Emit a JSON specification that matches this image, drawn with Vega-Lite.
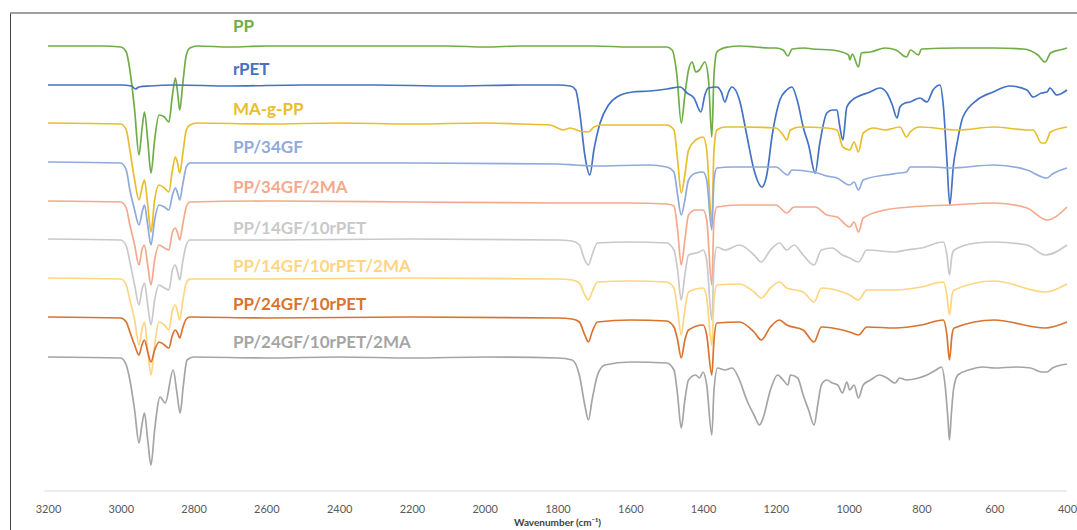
{
"$schema": "https://vega.github.io/schema/vega-lite/v6.json",
"width": 1067, "height": 517,
"autosize": {"type": "none"},
"padding": {"left": 10, "top": 13, "right": 0, "bottom": 0},
"background": "white",
"config": {"view": {"stroke": null}, "font": "Lato"},
"datasets": {
"labels": [
{"s":"PP","wn":2692,"v":503},
{"s":"rPET","wn":2692,"v":460},
{"s":"MA-g-PP","wn":2692,"v":420},
{"s":"PP/34GF","wn":2692,"v":382},
{"s":"PP/34GF/2MA","wn":2692,"v":342},
{"s":"PP/14GF/10rPET","wn":2692,"v":301},
{"s":"PP/14GF/10rPET/2MA","wn":2692,"v":263},
{"s":"PP/24GF/10rPET","wn":2692,"v":225},
{"s":"PP/24GF/10rPET/2MA","wn":2692,"v":187}
],
"spectra": [
{"s":"PP","wn":3200,"v":484},{"s":"PP","wn":3050,"v":484},{"s":"PP","wn":3000,"v":483},{"s":"PP","wn":2985,"v":478},{"s":"PP","wn":2975,"v":460},{"s":"PP","wn":2962,"v":420},{"s":"PP","wn":2950,"v":375},{"s":"PP","wn":2942,"v":400},{"s":"PP","wn":2935,"v":418},{"s":"PP","wn":2926,"v":390},{"s":"PP","wn":2917,"v":357},{"s":"PP","wn":2907,"v":390},{"s":"PP","wn":2895,"v":415},{"s":"PP","wn":2880,"v":413},{"s":"PP","wn":2868,"v":408},{"s":"PP","wn":2858,"v":435},{"s":"PP","wn":2850,"v":452},{"s":"PP","wn":2844,"v":438},{"s":"PP","wn":2838,"v":420},{"s":"PP","wn":2830,"v":445},{"s":"PP","wn":2820,"v":475},{"s":"PP","wn":2810,"v":482},{"s":"PP","wn":2790,"v":484},{"s":"PP","wn":2700,"v":483},{"s":"PP","wn":2600,"v":484},{"s":"PP","wn":2500,"v":484},{"s":"PP","wn":2400,"v":484},{"s":"PP","wn":2300,"v":484},{"s":"PP","wn":2200,"v":484},{"s":"PP","wn":2100,"v":484},{"s":"PP","wn":2000,"v":483},{"s":"PP","wn":1900,"v":484},{"s":"PP","wn":1800,"v":484},{"s":"PP","wn":1700,"v":484},{"s":"PP","wn":1600,"v":483},{"s":"PP","wn":1500,"v":483},{"s":"PP","wn":1485,"v":480},{"s":"PP","wn":1472,"v":455},{"s":"PP","wn":1460,"v":407},{"s":"PP","wn":1450,"v":435},{"s":"PP","wn":1440,"v":460},{"s":"PP","wn":1430,"v":468},{"s":"PP","wn":1420,"v":458},{"s":"PP","wn":1410,"v":460},{"s":"PP","wn":1395,"v":468},{"s":"PP","wn":1385,"v":450},{"s":"PP","wn":1376,"v":393},{"s":"PP","wn":1370,"v":455},{"s":"PP","wn":1362,"v":478},{"s":"PP","wn":1350,"v":481},{"s":"PP","wn":1330,"v":483},{"s":"PP","wn":1300,"v":484},{"s":"PP","wn":1255,"v":483},{"s":"PP","wn":1220,"v":482},{"s":"PP","wn":1200,"v":482},{"s":"PP","wn":1180,"v":480},{"s":"PP","wn":1167,"v":474},{"s":"PP","wn":1155,"v":481},{"s":"PP","wn":1120,"v":482},{"s":"PP","wn":1100,"v":481},{"s":"PP","wn":1045,"v":480},{"s":"PP","wn":1000,"v":475},{"s":"PP","wn":997,"v":470},{"s":"PP","wn":990,"v":476},{"s":"PP","wn":973,"v":463},{"s":"PP","wn":965,"v":477},{"s":"PP","wn":940,"v":478},{"s":"PP","wn":900,"v":482},{"s":"PP","wn":870,"v":480},{"s":"PP","wn":841,"v":473},{"s":"PP","wn":830,"v":480},{"s":"PP","wn":808,"v":475},{"s":"PP","wn":800,"v":481},{"s":"PP","wn":700,"v":482},{"s":"PP","wn":600,"v":482},{"s":"PP","wn":520,"v":481},{"s":"PP","wn":480,"v":475},{"s":"PP","wn":460,"v":468},{"s":"PP","wn":445,"v":477},{"s":"PP","wn":420,"v":480},{"s":"PP","wn":400,"v":482},

{"s":"rPET","wn":3200,"v":445},{"s":"rPET","wn":3000,"v":445},{"s":"rPET","wn":2970,"v":444},{"s":"rPET","wn":2960,"v":441},{"s":"rPET","wn":2950,"v":443},{"s":"rPET","wn":2920,"v":444},{"s":"rPET","wn":2850,"v":445},{"s":"rPET","wn":2700,"v":444},{"s":"rPET","wn":2500,"v":445},{"s":"rPET","wn":2300,"v":445},{"s":"rPET","wn":2100,"v":444},{"s":"rPET","wn":1900,"v":445},{"s":"rPET","wn":1800,"v":445},{"s":"rPET","wn":1765,"v":444},{"s":"rPET","wn":1750,"v":440},{"s":"rPET","wn":1738,"v":415},{"s":"rPET","wn":1725,"v":375},{"s":"rPET","wn":1711,"v":355},{"s":"rPET","wn":1700,"v":380},{"s":"rPET","wn":1683,"v":407},{"s":"rPET","wn":1660,"v":425},{"s":"rPET","wn":1637,"v":433},{"s":"rPET","wn":1593,"v":438},{"s":"rPET","wn":1546,"v":439},{"s":"rPET","wn":1499,"v":441},{"s":"rPET","wn":1463,"v":443},{"s":"rPET","wn":1444,"v":437},{"s":"rPET","wn":1425,"v":432},{"s":"rPET","wn":1406,"v":418},{"s":"rPET","wn":1395,"v":435},{"s":"rPET","wn":1386,"v":442},{"s":"rPET","wn":1362,"v":443},{"s":"rPET","wn":1350,"v":438},{"s":"rPET","wn":1340,"v":428},{"s":"rPET","wn":1330,"v":438},{"s":"rPET","wn":1321,"v":443},{"s":"rPET","wn":1300,"v":430},{"s":"rPET","wn":1280,"v":395},{"s":"rPET","wn":1260,"v":360},{"s":"rPET","wn":1238,"v":343},{"s":"rPET","wn":1225,"v":355},{"s":"rPET","wn":1210,"v":395},{"s":"rPET","wn":1189,"v":430},{"s":"rPET","wn":1170,"v":440},{"s":"rPET","wn":1156,"v":443},{"s":"rPET","wn":1140,"v":428},{"s":"rPET","wn":1125,"v":403},{"s":"rPET","wn":1110,"v":385},{"s":"rPET","wn":1092,"v":357},{"s":"rPET","wn":1080,"v":385},{"s":"rPET","wn":1060,"v":417},{"s":"rPET","wn":1045,"v":420},{"s":"rPET","wn":1032,"v":420},{"s":"rPET","wn":1025,"v":405},{"s":"rPET","wn":1016,"v":390},{"s":"rPET","wn":1005,"v":423},{"s":"rPET","wn":990,"v":430},{"s":"rPET","wn":977,"v":433},{"s":"rPET","wn":941,"v":438},{"s":"rPET","wn":914,"v":442},{"s":"rPET","wn":895,"v":437},{"s":"rPET","wn":880,"v":425},{"s":"rPET","wn":867,"v":412},{"s":"rPET","wn":859,"v":423},{"s":"rPET","wn":845,"v":427},{"s":"rPET","wn":831,"v":428},{"s":"rPET","wn":804,"v":432},{"s":"rPET","wn":785,"v":428},{"s":"rPET","wn":768,"v":440},{"s":"rPET","wn":749,"v":445},{"s":"rPET","wn":740,"v":425},{"s":"rPET","wn":730,"v":370},{"s":"rPET","wn":722,"v":325},{"s":"rPET","wn":712,"v":365},{"s":"rPET","wn":702,"v":387},{"s":"rPET","wn":686,"v":413},{"s":"rPET","wn":647,"v":430},{"s":"rPET","wn":603,"v":438},{"s":"rPET","wn":557,"v":444},{"s":"rPET","wn":510,"v":440},{"s":"rPET","wn":493,"v":433},{"s":"rPET","wn":470,"v":437},{"s":"rPET","wn":455,"v":438},{"s":"rPET","wn":447,"v":442},{"s":"rPET","wn":428,"v":435},{"s":"rPET","wn":400,"v":440},

{"s":"MA-g-PP","wn":3200,"v":407},{"s":"MA-g-PP","wn":3000,"v":406},{"s":"MA-g-PP","wn":2985,"v":400},{"s":"MA-g-PP","wn":2975,"v":380},{"s":"MA-g-PP","wn":2962,"v":350},{"s":"MA-g-PP","wn":2950,"v":330},{"s":"MA-g-PP","wn":2940,"v":345},{"s":"MA-g-PP","wn":2935,"v":350},{"s":"MA-g-PP","wn":2926,"v":325},{"s":"MA-g-PP","wn":2917,"v":298},{"s":"MA-g-PP","wn":2907,"v":330},{"s":"MA-g-PP","wn":2895,"v":345},{"s":"MA-g-PP","wn":2880,"v":342},{"s":"MA-g-PP","wn":2868,"v":338},{"s":"MA-g-PP","wn":2858,"v":360},{"s":"MA-g-PP","wn":2850,"v":373},{"s":"MA-g-PP","wn":2844,"v":367},{"s":"MA-g-PP","wn":2838,"v":357},{"s":"MA-g-PP","wn":2830,"v":375},{"s":"MA-g-PP","wn":2820,"v":400},{"s":"MA-g-PP","wn":2810,"v":405},{"s":"MA-g-PP","wn":2790,"v":407},{"s":"MA-g-PP","wn":2600,"v":406},{"s":"MA-g-PP","wn":2400,"v":407},{"s":"MA-g-PP","wn":2200,"v":406},{"s":"MA-g-PP","wn":2000,"v":407},{"s":"MA-g-PP","wn":1900,"v":406},{"s":"MA-g-PP","wn":1820,"v":405},{"s":"MA-g-PP","wn":1800,"v":402},{"s":"MA-g-PP","wn":1785,"v":400},{"s":"MA-g-PP","wn":1765,"v":402},{"s":"MA-g-PP","wn":1740,"v":399},{"s":"MA-g-PP","wn":1715,"v":398},{"s":"MA-g-PP","wn":1700,"v":403},{"s":"MA-g-PP","wn":1680,"v":405},{"s":"MA-g-PP","wn":1550,"v":405},{"s":"MA-g-PP","wn":1500,"v":405},{"s":"MA-g-PP","wn":1480,"v":400},{"s":"MA-g-PP","wn":1470,"v":370},{"s":"MA-g-PP","wn":1460,"v":337},{"s":"MA-g-PP","wn":1450,"v":355},{"s":"MA-g-PP","wn":1440,"v":380},{"s":"MA-g-PP","wn":1420,"v":390},{"s":"MA-g-PP","wn":1400,"v":393},{"s":"MA-g-PP","wn":1390,"v":380},{"s":"MA-g-PP","wn":1376,"v":308},{"s":"MA-g-PP","wn":1370,"v":380},{"s":"MA-g-PP","wn":1362,"v":400},{"s":"MA-g-PP","wn":1340,"v":403},{"s":"MA-g-PP","wn":1300,"v":403},{"s":"MA-g-PP","wn":1200,"v":402},{"s":"MA-g-PP","wn":1180,"v":395},{"s":"MA-g-PP","wn":1170,"v":390},{"s":"MA-g-PP","wn":1160,"v":400},{"s":"MA-g-PP","wn":1134,"v":403},{"s":"MA-g-PP","wn":1060,"v":402},{"s":"MA-g-PP","wn":1032,"v":400},{"s":"MA-g-PP","wn":1016,"v":383},{"s":"MA-g-PP","wn":997,"v":380},{"s":"MA-g-PP","wn":985,"v":388},{"s":"MA-g-PP","wn":973,"v":378},{"s":"MA-g-PP","wn":960,"v":397},{"s":"MA-g-PP","wn":930,"v":402},{"s":"MA-g-PP","wn":900,"v":400},{"s":"MA-g-PP","wn":859,"v":403},{"s":"MA-g-PP","wn":841,"v":393},{"s":"MA-g-PP","wn":831,"v":398},{"s":"MA-g-PP","wn":804,"v":403},{"s":"MA-g-PP","wn":700,"v":400},{"s":"MA-g-PP","wn":600,"v":403},{"s":"MA-g-PP","wn":510,"v":400},{"s":"MA-g-PP","wn":493,"v":400},{"s":"MA-g-PP","wn":470,"v":387},{"s":"MA-g-PP","wn":460,"v":387},{"s":"MA-g-PP","wn":445,"v":398},{"s":"MA-g-PP","wn":400,"v":403},

{"s":"PP/34GF","wn":3200,"v":368},{"s":"PP/34GF","wn":3000,"v":367},{"s":"PP/34GF","wn":2985,"v":360},{"s":"PP/34GF","wn":2975,"v":340},{"s":"PP/34GF","wn":2962,"v":320},{"s":"PP/34GF","wn":2950,"v":305},{"s":"PP/34GF","wn":2940,"v":320},{"s":"PP/34GF","wn":2935,"v":325},{"s":"PP/34GF","wn":2926,"v":305},{"s":"PP/34GF","wn":2917,"v":285},{"s":"PP/34GF","wn":2907,"v":310},{"s":"PP/34GF","wn":2895,"v":325},{"s":"PP/34GF","wn":2880,"v":323},{"s":"PP/34GF","wn":2868,"v":320},{"s":"PP/34GF","wn":2858,"v":335},{"s":"PP/34GF","wn":2850,"v":342},{"s":"PP/34GF","wn":2844,"v":337},{"s":"PP/34GF","wn":2838,"v":330},{"s":"PP/34GF","wn":2830,"v":345},{"s":"PP/34GF","wn":2820,"v":363},{"s":"PP/34GF","wn":2810,"v":367},{"s":"PP/34GF","wn":2600,"v":367},{"s":"PP/34GF","wn":2200,"v":367},{"s":"PP/34GF","wn":1800,"v":366},{"s":"PP/34GF","wn":1750,"v":365},{"s":"PP/34GF","wn":1700,"v":364},{"s":"PP/34GF","wn":1550,"v":365},{"s":"PP/34GF","wn":1500,"v":363},{"s":"PP/34GF","wn":1480,"v":358},{"s":"PP/34GF","wn":1470,"v":335},{"s":"PP/34GF","wn":1460,"v":315},{"s":"PP/34GF","wn":1450,"v":330},{"s":"PP/34GF","wn":1440,"v":350},{"s":"PP/34GF","wn":1420,"v":357},{"s":"PP/34GF","wn":1400,"v":358},{"s":"PP/34GF","wn":1390,"v":350},{"s":"PP/34GF","wn":1376,"v":300},{"s":"PP/34GF","wn":1370,"v":350},{"s":"PP/34GF","wn":1362,"v":362},{"s":"PP/34GF","wn":1321,"v":363},{"s":"PP/34GF","wn":1200,"v":363},{"s":"PP/34GF","wn":1167,"v":355},{"s":"PP/34GF","wn":1156,"v":360},{"s":"PP/34GF","wn":1100,"v":358},{"s":"PP/34GF","wn":1087,"v":357},{"s":"PP/34GF","wn":1060,"v":354},{"s":"PP/34GF","wn":1032,"v":352},{"s":"PP/34GF","wn":997,"v":345},{"s":"PP/34GF","wn":985,"v":348},{"s":"PP/34GF","wn":973,"v":340},{"s":"PP/34GF","wn":960,"v":350},{"s":"PP/34GF","wn":900,"v":355},{"s":"PP/34GF","wn":859,"v":357},{"s":"PP/34GF","wn":841,"v":358},{"s":"PP/34GF","wn":831,"v":363},{"s":"PP/34GF","wn":768,"v":363},{"s":"PP/34GF","wn":722,"v":362},{"s":"PP/34GF","wn":600,"v":365},{"s":"PP/34GF","wn":510,"v":360},{"s":"PP/34GF","wn":455,"v":352},{"s":"PP/34GF","wn":440,"v":356},{"s":"PP/34GF","wn":400,"v":362},

{"s":"PP/34GF/2MA","wn":3200,"v":329},{"s":"PP/34GF/2MA","wn":3000,"v":328},{"s":"PP/34GF/2MA","wn":2985,"v":322},{"s":"PP/34GF/2MA","wn":2975,"v":305},{"s":"PP/34GF/2MA","wn":2962,"v":285},{"s":"PP/34GF/2MA","wn":2950,"v":265},{"s":"PP/34GF/2MA","wn":2942,"v":280},{"s":"PP/34GF/2MA","wn":2935,"v":285},{"s":"PP/34GF/2MA","wn":2926,"v":265},{"s":"PP/34GF/2MA","wn":2917,"v":245},{"s":"PP/34GF/2MA","wn":2907,"v":270},{"s":"PP/34GF/2MA","wn":2895,"v":285},{"s":"PP/34GF/2MA","wn":2880,"v":282},{"s":"PP/34GF/2MA","wn":2868,"v":280},{"s":"PP/34GF/2MA","wn":2858,"v":298},{"s":"PP/34GF/2MA","wn":2850,"v":302},{"s":"PP/34GF/2MA","wn":2844,"v":297},{"s":"PP/34GF/2MA","wn":2838,"v":290},{"s":"PP/34GF/2MA","wn":2830,"v":305},{"s":"PP/34GF/2MA","wn":2820,"v":323},{"s":"PP/34GF/2MA","wn":2810,"v":328},{"s":"PP/34GF/2MA","wn":2600,"v":329},{"s":"PP/34GF/2MA","wn":2200,"v":328},{"s":"PP/34GF/2MA","wn":1800,"v":327},{"s":"PP/34GF/2MA","wn":1600,"v":327},{"s":"PP/34GF/2MA","wn":1500,"v":326},{"s":"PP/34GF/2MA","wn":1480,"v":324},{"s":"PP/34GF/2MA","wn":1470,"v":300},{"s":"PP/34GF/2MA","wn":1460,"v":265},{"s":"PP/34GF/2MA","wn":1450,"v":290},{"s":"PP/34GF/2MA","wn":1440,"v":315},{"s":"PP/34GF/2MA","wn":1420,"v":320},{"s":"PP/34GF/2MA","wn":1400,"v":320},{"s":"PP/34GF/2MA","wn":1390,"v":310},{"s":"PP/34GF/2MA","wn":1376,"v":245},{"s":"PP/34GF/2MA","wn":1370,"v":310},{"s":"PP/34GF/2MA","wn":1362,"v":323},{"s":"PP/34GF/2MA","wn":1300,"v":325},{"s":"PP/34GF/2MA","wn":1200,"v":325},{"s":"PP/34GF/2MA","wn":1170,"v":317},{"s":"PP/34GF/2MA","wn":1150,"v":323},{"s":"PP/34GF/2MA","wn":1092,"v":323},{"s":"PP/34GF/2MA","wn":1060,"v":315},{"s":"PP/34GF/2MA","wn":1032,"v":313},{"s":"PP/34GF/2MA","wn":997,"v":303},{"s":"PP/34GF/2MA","wn":985,"v":308},{"s":"PP/34GF/2MA","wn":973,"v":298},{"s":"PP/34GF/2MA","wn":960,"v":312},{"s":"PP/34GF/2MA","wn":900,"v":320},{"s":"PP/34GF/2MA","wn":831,"v":323},{"s":"PP/34GF/2MA","wn":722,"v":325},{"s":"PP/34GF/2MA","wn":600,"v":327},{"s":"PP/34GF/2MA","wn":510,"v":322},{"s":"PP/34GF/2MA","wn":455,"v":310},{"s":"PP/34GF/2MA","wn":400,"v":323},

{"s":"PP/14GF/10rPET","wn":3200,"v":291},{"s":"PP/14GF/10rPET","wn":3000,"v":290},{"s":"PP/14GF/10rPET","wn":2985,"v":284},{"s":"PP/14GF/10rPET","wn":2975,"v":268},{"s":"PP/14GF/10rPET","wn":2962,"v":245},{"s":"PP/14GF/10rPET","wn":2950,"v":225},{"s":"PP/14GF/10rPET","wn":2942,"v":240},{"s":"PP/14GF/10rPET","wn":2935,"v":247},{"s":"PP/14GF/10rPET","wn":2926,"v":225},{"s":"PP/14GF/10rPET","wn":2917,"v":205},{"s":"PP/14GF/10rPET","wn":2907,"v":230},{"s":"PP/14GF/10rPET","wn":2895,"v":245},{"s":"PP/14GF/10rPET","wn":2880,"v":242},{"s":"PP/14GF/10rPET","wn":2868,"v":240},{"s":"PP/14GF/10rPET","wn":2858,"v":260},{"s":"PP/14GF/10rPET","wn":2850,"v":265},{"s":"PP/14GF/10rPET","wn":2844,"v":258},{"s":"PP/14GF/10rPET","wn":2838,"v":250},{"s":"PP/14GF/10rPET","wn":2830,"v":268},{"s":"PP/14GF/10rPET","wn":2820,"v":285},{"s":"PP/14GF/10rPET","wn":2810,"v":290},{"s":"PP/14GF/10rPET","wn":2600,"v":290},{"s":"PP/14GF/10rPET","wn":2200,"v":291},{"s":"PP/14GF/10rPET","wn":1800,"v":290},{"s":"PP/14GF/10rPET","wn":1760,"v":289},{"s":"PP/14GF/10rPET","wn":1740,"v":285},{"s":"PP/14GF/10rPET","wn":1725,"v":270},{"s":"PP/14GF/10rPET","wn":1715,"v":265},{"s":"PP/14GF/10rPET","wn":1705,"v":275},{"s":"PP/14GF/10rPET","wn":1690,"v":287},{"s":"PP/14GF/10rPET","wn":1600,"v":288},{"s":"PP/14GF/10rPET","wn":1500,"v":287},{"s":"PP/14GF/10rPET","wn":1480,"v":280},{"s":"PP/14GF/10rPET","wn":1470,"v":260},{"s":"PP/14GF/10rPET","wn":1460,"v":230},{"s":"PP/14GF/10rPET","wn":1450,"v":255},{"s":"PP/14GF/10rPET","wn":1440,"v":275},{"s":"PP/14GF/10rPET","wn":1410,"v":278},{"s":"PP/14GF/10rPET","wn":1400,"v":280},{"s":"PP/14GF/10rPET","wn":1390,"v":270},{"s":"PP/14GF/10rPET","wn":1376,"v":210},{"s":"PP/14GF/10rPET","wn":1370,"v":265},{"s":"PP/14GF/10rPET","wn":1362,"v":283},{"s":"PP/14GF/10rPET","wn":1340,"v":280},{"s":"PP/14GF/10rPET","wn":1300,"v":285},{"s":"PP/14GF/10rPET","wn":1260,"v":275},{"s":"PP/14GF/10rPET","wn":1240,"v":268},{"s":"PP/14GF/10rPET","wn":1215,"v":280},{"s":"PP/14GF/10rPET","wn":1190,"v":287},{"s":"PP/14GF/10rPET","wn":1170,"v":280},{"s":"PP/14GF/10rPET","wn":1150,"v":285},{"s":"PP/14GF/10rPET","wn":1125,"v":275},{"s":"PP/14GF/10rPET","wn":1095,"v":265},{"s":"PP/14GF/10rPET","wn":1075,"v":280},{"s":"PP/14GF/10rPET","wn":1045,"v":282},{"s":"PP/14GF/10rPET","wn":1017,"v":275},{"s":"PP/14GF/10rPET","wn":997,"v":272},{"s":"PP/14GF/10rPET","wn":973,"v":268},{"s":"PP/14GF/10rPET","wn":950,"v":280},{"s":"PP/14GF/10rPET","wn":872,"v":278},{"s":"PP/14GF/10rPET","wn":841,"v":280},{"s":"PP/14GF/10rPET","wn":800,"v":282},{"s":"PP/14GF/10rPET","wn":740,"v":288},{"s":"PP/14GF/10rPET","wn":730,"v":275},{"s":"PP/14GF/10rPET","wn":723,"v":255},{"s":"PP/14GF/10rPET","wn":716,"v":275},{"s":"PP/14GF/10rPET","wn":710,"v":280},{"s":"PP/14GF/10rPET","wn":650,"v":287},{"s":"PP/14GF/10rPET","wn":600,"v":288},{"s":"PP/14GF/10rPET","wn":510,"v":285},{"s":"PP/14GF/10rPET","wn":460,"v":275},{"s":"PP/14GF/10rPET","wn":400,"v":285},

{"s":"PP/14GF/10rPET/2MA","wn":3200,"v":252},{"s":"PP/14GF/10rPET/2MA","wn":3000,"v":251},{"s":"PP/14GF/10rPET/2MA","wn":2985,"v":245},{"s":"PP/14GF/10rPET/2MA","wn":2975,"v":230},{"s":"PP/14GF/10rPET/2MA","wn":2962,"v":210},{"s":"PP/14GF/10rPET/2MA","wn":2950,"v":185},{"s":"PP/14GF/10rPET/2MA","wn":2942,"v":200},{"s":"PP/14GF/10rPET/2MA","wn":2935,"v":208},{"s":"PP/14GF/10rPET/2MA","wn":2926,"v":180},{"s":"PP/14GF/10rPET/2MA","wn":2917,"v":155},{"s":"PP/14GF/10rPET/2MA","wn":2907,"v":185},{"s":"PP/14GF/10rPET/2MA","wn":2895,"v":208},{"s":"PP/14GF/10rPET/2MA","wn":2880,"v":205},{"s":"PP/14GF/10rPET/2MA","wn":2868,"v":200},{"s":"PP/14GF/10rPET/2MA","wn":2858,"v":220},{"s":"PP/14GF/10rPET/2MA","wn":2850,"v":225},{"s":"PP/14GF/10rPET/2MA","wn":2844,"v":218},{"s":"PP/14GF/10rPET/2MA","wn":2838,"v":210},{"s":"PP/14GF/10rPET/2MA","wn":2830,"v":228},{"s":"PP/14GF/10rPET/2MA","wn":2820,"v":247},{"s":"PP/14GF/10rPET/2MA","wn":2810,"v":251},{"s":"PP/14GF/10rPET/2MA","wn":2600,"v":251},{"s":"PP/14GF/10rPET/2MA","wn":2200,"v":252},{"s":"PP/14GF/10rPET/2MA","wn":1800,"v":251},{"s":"PP/14GF/10rPET/2MA","wn":1760,"v":250},{"s":"PP/14GF/10rPET/2MA","wn":1740,"v":247},{"s":"PP/14GF/10rPET/2MA","wn":1725,"v":235},{"s":"PP/14GF/10rPET/2MA","wn":1715,"v":230},{"s":"PP/14GF/10rPET/2MA","wn":1705,"v":238},{"s":"PP/14GF/10rPET/2MA","wn":1690,"v":248},{"s":"PP/14GF/10rPET/2MA","wn":1600,"v":249},{"s":"PP/14GF/10rPET/2MA","wn":1500,"v":248},{"s":"PP/14GF/10rPET/2MA","wn":1480,"v":242},{"s":"PP/14GF/10rPET/2MA","wn":1470,"v":220},{"s":"PP/14GF/10rPET/2MA","wn":1460,"v":195},{"s":"PP/14GF/10rPET/2MA","wn":1450,"v":220},{"s":"PP/14GF/10rPET/2MA","wn":1440,"v":238},{"s":"PP/14GF/10rPET/2MA","wn":1400,"v":242},{"s":"PP/14GF/10rPET/2MA","wn":1390,"v":232},{"s":"PP/14GF/10rPET/2MA","wn":1376,"v":185},{"s":"PP/14GF/10rPET/2MA","wn":1370,"v":230},{"s":"PP/14GF/10rPET/2MA","wn":1362,"v":245},{"s":"PP/14GF/10rPET/2MA","wn":1300,"v":246},{"s":"PP/14GF/10rPET/2MA","wn":1260,"v":238},{"s":"PP/14GF/10rPET/2MA","wn":1240,"v":232},{"s":"PP/14GF/10rPET/2MA","wn":1215,"v":242},{"s":"PP/14GF/10rPET/2MA","wn":1190,"v":248},{"s":"PP/14GF/10rPET/2MA","wn":1170,"v":242},{"s":"PP/14GF/10rPET/2MA","wn":1125,"v":238},{"s":"PP/14GF/10rPET/2MA","wn":1095,"v":228},{"s":"PP/14GF/10rPET/2MA","wn":1075,"v":242},{"s":"PP/14GF/10rPET/2MA","wn":1017,"v":238},{"s":"PP/14GF/10rPET/2MA","wn":997,"v":235},{"s":"PP/14GF/10rPET/2MA","wn":973,"v":230},{"s":"PP/14GF/10rPET/2MA","wn":950,"v":240},{"s":"PP/14GF/10rPET/2MA","wn":872,"v":240},{"s":"PP/14GF/10rPET/2MA","wn":800,"v":243},{"s":"PP/14GF/10rPET/2MA","wn":740,"v":248},{"s":"PP/14GF/10rPET/2MA","wn":730,"v":235},{"s":"PP/14GF/10rPET/2MA","wn":723,"v":215},{"s":"PP/14GF/10rPET/2MA","wn":716,"v":235},{"s":"PP/14GF/10rPET/2MA","wn":710,"v":240},{"s":"PP/14GF/10rPET/2MA","wn":600,"v":249},{"s":"PP/14GF/10rPET/2MA","wn":460,"v":238},{"s":"PP/14GF/10rPET/2MA","wn":400,"v":246},

{"s":"PP/24GF/10rPET","wn":3200,"v":213},{"s":"PP/24GF/10rPET","wn":3000,"v":212},{"s":"PP/24GF/10rPET","wn":2985,"v":208},{"s":"PP/24GF/10rPET","wn":2975,"v":198},{"s":"PP/24GF/10rPET","wn":2962,"v":185},{"s":"PP/24GF/10rPET","wn":2950,"v":175},{"s":"PP/24GF/10rPET","wn":2942,"v":185},{"s":"PP/24GF/10rPET","wn":2935,"v":190},{"s":"PP/24GF/10rPET","wn":2926,"v":178},{"s":"PP/24GF/10rPET","wn":2917,"v":168},{"s":"PP/24GF/10rPET","wn":2907,"v":180},{"s":"PP/24GF/10rPET","wn":2895,"v":188},{"s":"PP/24GF/10rPET","wn":2880,"v":185},{"s":"PP/24GF/10rPET","wn":2868,"v":182},{"s":"PP/24GF/10rPET","wn":2858,"v":195},{"s":"PP/24GF/10rPET","wn":2850,"v":200},{"s":"PP/24GF/10rPET","wn":2844,"v":197},{"s":"PP/24GF/10rPET","wn":2838,"v":192},{"s":"PP/24GF/10rPET","wn":2830,"v":202},{"s":"PP/24GF/10rPET","wn":2820,"v":211},{"s":"PP/24GF/10rPET","wn":2810,"v":213},{"s":"PP/24GF/10rPET","wn":2600,"v":212},{"s":"PP/24GF/10rPET","wn":2200,"v":213},{"s":"PP/24GF/10rPET","wn":1800,"v":212},{"s":"PP/24GF/10rPET","wn":1760,"v":211},{"s":"PP/24GF/10rPET","wn":1740,"v":208},{"s":"PP/24GF/10rPET","wn":1725,"v":195},{"s":"PP/24GF/10rPET","wn":1715,"v":188},{"s":"PP/24GF/10rPET","wn":1705,"v":198},{"s":"PP/24GF/10rPET","wn":1690,"v":208},{"s":"PP/24GF/10rPET","wn":1600,"v":210},{"s":"PP/24GF/10rPET","wn":1500,"v":209},{"s":"PP/24GF/10rPET","wn":1480,"v":203},{"s":"PP/24GF/10rPET","wn":1470,"v":190},{"s":"PP/24GF/10rPET","wn":1460,"v":172},{"s":"PP/24GF/10rPET","wn":1450,"v":190},{"s":"PP/24GF/10rPET","wn":1440,"v":200},{"s":"PP/24GF/10rPET","wn":1400,"v":205},{"s":"PP/24GF/10rPET","wn":1390,"v":195},{"s":"PP/24GF/10rPET","wn":1376,"v":155},{"s":"PP/24GF/10rPET","wn":1370,"v":190},{"s":"PP/24GF/10rPET","wn":1362,"v":207},{"s":"PP/24GF/10rPET","wn":1300,"v":208},{"s":"PP/24GF/10rPET","wn":1260,"v":198},{"s":"PP/24GF/10rPET","wn":1240,"v":190},{"s":"PP/24GF/10rPET","wn":1215,"v":203},{"s":"PP/24GF/10rPET","wn":1190,"v":210},{"s":"PP/24GF/10rPET","wn":1170,"v":205},{"s":"PP/24GF/10rPET","wn":1125,"v":200},{"s":"PP/24GF/10rPET","wn":1095,"v":188},{"s":"PP/24GF/10rPET","wn":1075,"v":203},{"s":"PP/24GF/10rPET","wn":1017,"v":200},{"s":"PP/24GF/10rPET","wn":997,"v":198},{"s":"PP/24GF/10rPET","wn":973,"v":195},{"s":"PP/24GF/10rPET","wn":950,"v":203},{"s":"PP/24GF/10rPET","wn":872,"v":202},{"s":"PP/24GF/10rPET","wn":800,"v":205},{"s":"PP/24GF/10rPET","wn":740,"v":210},{"s":"PP/24GF/10rPET","wn":730,"v":195},{"s":"PP/24GF/10rPET","wn":723,"v":170},{"s":"PP/24GF/10rPET","wn":716,"v":195},{"s":"PP/24GF/10rPET","wn":710,"v":202},{"s":"PP/24GF/10rPET","wn":600,"v":210},{"s":"PP/24GF/10rPET","wn":460,"v":202},{"s":"PP/24GF/10rPET","wn":400,"v":208},

{"s":"PP/24GF/10rPET/2MA","wn":3200,"v":173},{"s":"PP/24GF/10rPET/2MA","wn":3000,"v":172},{"s":"PP/24GF/10rPET/2MA","wn":2985,"v":165},{"s":"PP/24GF/10rPET/2MA","wn":2975,"v":150},{"s":"PP/24GF/10rPET/2MA","wn":2962,"v":120},{"s":"PP/24GF/10rPET/2MA","wn":2950,"v":87},{"s":"PP/24GF/10rPET/2MA","wn":2942,"v":105},{"s":"PP/24GF/10rPET/2MA","wn":2935,"v":117},{"s":"PP/24GF/10rPET/2MA","wn":2926,"v":90},{"s":"PP/24GF/10rPET/2MA","wn":2917,"v":65},{"s":"PP/24GF/10rPET/2MA","wn":2907,"v":100},{"s":"PP/24GF/10rPET/2MA","wn":2892,"v":133},{"s":"PP/24GF/10rPET/2MA","wn":2878,"v":127},{"s":"PP/24GF/10rPET/2MA","wn":2856,"v":160},{"s":"PP/24GF/10rPET/2MA","wn":2846,"v":138},{"s":"PP/24GF/10rPET/2MA","wn":2837,"v":117},{"s":"PP/24GF/10rPET/2MA","wn":2828,"v":145},{"s":"PP/24GF/10rPET/2MA","wn":2818,"v":170},{"s":"PP/24GF/10rPET/2MA","wn":2800,"v":173},{"s":"PP/24GF/10rPET/2MA","wn":2600,"v":172},{"s":"PP/24GF/10rPET/2MA","wn":2400,"v":173},{"s":"PP/24GF/10rPET/2MA","wn":2200,"v":172},{"s":"PP/24GF/10rPET/2MA","wn":2000,"v":173},{"s":"PP/24GF/10rPET/2MA","wn":1800,"v":172},{"s":"PP/24GF/10rPET/2MA","wn":1760,"v":170},{"s":"PP/24GF/10rPET/2MA","wn":1740,"v":155},{"s":"PP/24GF/10rPET/2MA","wn":1725,"v":125},{"s":"PP/24GF/10rPET/2MA","wn":1715,"v":110},{"s":"PP/24GF/10rPET/2MA","wn":1705,"v":130},{"s":"PP/24GF/10rPET/2MA","wn":1690,"v":155},{"s":"PP/24GF/10rPET/2MA","wn":1670,"v":165},{"s":"PP/24GF/10rPET/2MA","wn":1600,"v":168},{"s":"PP/24GF/10rPET/2MA","wn":1500,"v":167},{"s":"PP/24GF/10rPET/2MA","wn":1480,"v":160},{"s":"PP/24GF/10rPET/2MA","wn":1470,"v":135},{"s":"PP/24GF/10rPET/2MA","wn":1460,"v":102},{"s":"PP/24GF/10rPET/2MA","wn":1450,"v":130},{"s":"PP/24GF/10rPET/2MA","wn":1440,"v":150},{"s":"PP/24GF/10rPET/2MA","wn":1420,"v":155},{"s":"PP/24GF/10rPET/2MA","wn":1410,"v":152},{"s":"PP/24GF/10rPET/2MA","wn":1400,"v":158},{"s":"PP/24GF/10rPET/2MA","wn":1390,"v":145},{"s":"PP/24GF/10rPET/2MA","wn":1376,"v":95},{"s":"PP/24GF/10rPET/2MA","wn":1370,"v":140},{"s":"PP/24GF/10rPET/2MA","wn":1360,"v":162},{"s":"PP/24GF/10rPET/2MA","wn":1340,"v":160},{"s":"PP/24GF/10rPET/2MA","wn":1320,"v":162},{"s":"PP/24GF/10rPET/2MA","wn":1300,"v":150},{"s":"PP/24GF/10rPET/2MA","wn":1280,"v":130},{"s":"PP/24GF/10rPET/2MA","wn":1260,"v":115},{"s":"PP/24GF/10rPET/2MA","wn":1245,"v":105},{"s":"PP/24GF/10rPET/2MA","wn":1235,"v":112},{"s":"PP/24GF/10rPET/2MA","wn":1215,"v":140},{"s":"PP/24GF/10rPET/2MA","wn":1195,"v":155},{"s":"PP/24GF/10rPET/2MA","wn":1180,"v":150},{"s":"PP/24GF/10rPET/2MA","wn":1167,"v":145},{"s":"PP/24GF/10rPET/2MA","wn":1160,"v":155},{"s":"PP/24GF/10rPET/2MA","wn":1140,"v":152},{"s":"PP/24GF/10rPET/2MA","wn":1125,"v":135},{"s":"PP/24GF/10rPET/2MA","wn":1110,"v":120},{"s":"PP/24GF/10rPET/2MA","wn":1095,"v":105},{"s":"PP/24GF/10rPET/2MA","wn":1085,"v":125},{"s":"PP/24GF/10rPET/2MA","wn":1075,"v":145},{"s":"PP/24GF/10rPET/2MA","wn":1060,"v":150},{"s":"PP/24GF/10rPET/2MA","wn":1045,"v":147},{"s":"PP/24GF/10rPET/2MA","wn":1030,"v":145},{"s":"PP/24GF/10rPET/2MA","wn":1017,"v":137},{"s":"PP/24GF/10rPET/2MA","wn":1005,"v":148},{"s":"PP/24GF/10rPET/2MA","wn":997,"v":140},{"s":"PP/24GF/10rPET/2MA","wn":985,"v":145},{"s":"PP/24GF/10rPET/2MA","wn":973,"v":132},{"s":"PP/24GF/10rPET/2MA","wn":960,"v":145},{"s":"PP/24GF/10rPET/2MA","wn":940,"v":150},{"s":"PP/24GF/10rPET/2MA","wn":915,"v":155},{"s":"PP/24GF/10rPET/2MA","wn":895,"v":152},{"s":"PP/24GF/10rPET/2MA","wn":872,"v":147},{"s":"PP/24GF/10rPET/2MA","wn":860,"v":152},{"s":"PP/24GF/10rPET/2MA","wn":841,"v":150},{"s":"PP/24GF/10rPET/2MA","wn":808,"v":152},{"s":"PP/24GF/10rPET/2MA","wn":785,"v":155},{"s":"PP/24GF/10rPET/2MA","wn":760,"v":160},{"s":"PP/24GF/10rPET/2MA","wn":745,"v":163},{"s":"PP/24GF/10rPET/2MA","wn":735,"v":145},{"s":"PP/24GF/10rPET/2MA","wn":727,"v":110},{"s":"PP/24GF/10rPET/2MA","wn":723,"v":90},{"s":"PP/24GF/10rPET/2MA","wn":718,"v":115},{"s":"PP/24GF/10rPET/2MA","wn":712,"v":140},{"s":"PP/24GF/10rPET/2MA","wn":700,"v":155},{"s":"PP/24GF/10rPET/2MA","wn":670,"v":160},{"s":"PP/24GF/10rPET/2MA","wn":630,"v":163},{"s":"PP/24GF/10rPET/2MA","wn":600,"v":162},{"s":"PP/24GF/10rPET/2MA","wn":540,"v":163},{"s":"PP/24GF/10rPET/2MA","wn":500,"v":162},{"s":"PP/24GF/10rPET/2MA","wn":470,"v":158},{"s":"PP/24GF/10rPET/2MA","wn":455,"v":158},{"s":"PP/24GF/10rPET/2MA","wn":440,"v":162},{"s":"PP/24GF/10rPET/2MA","wn":400,"v":166}
]
},
"layer": [
{
"data": {"values": [{"wn": 3210, "wn2": 400, "v": 39}]},
"mark": {"type": "rule", "color": "#D9D9D9", "strokeWidth": 1},
"encoding": {
"x": {"field": "wn", "type": "quantitative", "scale": {"domain": [372.52, 3304.42], "reverse": true, "nice": false, "zero": false},
"axis": {"orient": "bottom", "offset": -30, "domain": false, "ticks": false, "tickSize": 0, "grid": false, "format": "d",
"values": [3200,3000,2800,2600,2400,2200,2000,1800,1600,1400,1200,1000,800,600,400],
"labelFontSize": 11, "labelColor": "#595959", "labelFont": "Lato", "labelPadding": 3, "labelOverlap": false, "labelFlush": false, "labelBound": false,
"title": "Wavenumber (cm⁻¹)", "titleFontSize": 10, "titleFontWeight": "bold", "titleColor": "#404040", "titleFont": "Lato",
"titleX": 547, "titleY": 17, "titleBaseline": "top", "titleAlign": "center", "titleAnchor": "start"}},
"x2": {"field": "wn2"},
"y": {"field": "v", "type": "quantitative", "scale": {"domain": [0, 517], "nice": false, "zero": false},
"axis": {"orient": "left", "domain": true, "domainColor": "#404040", "domainWidth": 1, "labels": false, "ticks": false, "grid": false, "title": null}}
}
},
{
"data": {"values": [{"v": 517}]},
"mark": {"type": "rule", "color": "#404040", "strokeWidth": 1},
"encoding": {"y": {"field": "v", "type": "quantitative"}}
},
{
"data": {"name": "spectra"},
"mark": {"type": "line", "strokeWidth": 1.7, "interpolate": "monotone"},
"encoding": {
"x": {"field": "wn", "type": "quantitative"},
"y": {"field": "v", "type": "quantitative"},
"color": {"field": "s", "type": "nominal", "legend": null,
"scale": {"domain": ["PP","rPET","MA-g-PP","PP/34GF","PP/34GF/2MA","PP/14GF/10rPET","PP/14GF/10rPET/2MA","PP/24GF/10rPET","PP/24GF/10rPET/2MA"],
"range": ["#70AD47","#4472C4","#E8BE2A","#8FAADC","#F4A98C","#C9C9C9","#FFD580","#D9732F","#A5A5A5"]}}
}
},
{
"data": {"name": "labels"},
"mark": {"type": "text", "align": "left", "baseline": "middle", "fontWeight": "bold", "fontSize": 17, "font": "Lato"},
"encoding": {
"x": {"field": "wn", "type": "quantitative"},
"y": {"field": "v", "type": "quantitative"},
"text": {"field": "s"},
"color": {"field": "s", "type": "nominal", "legend": null}
}
}
]
}
